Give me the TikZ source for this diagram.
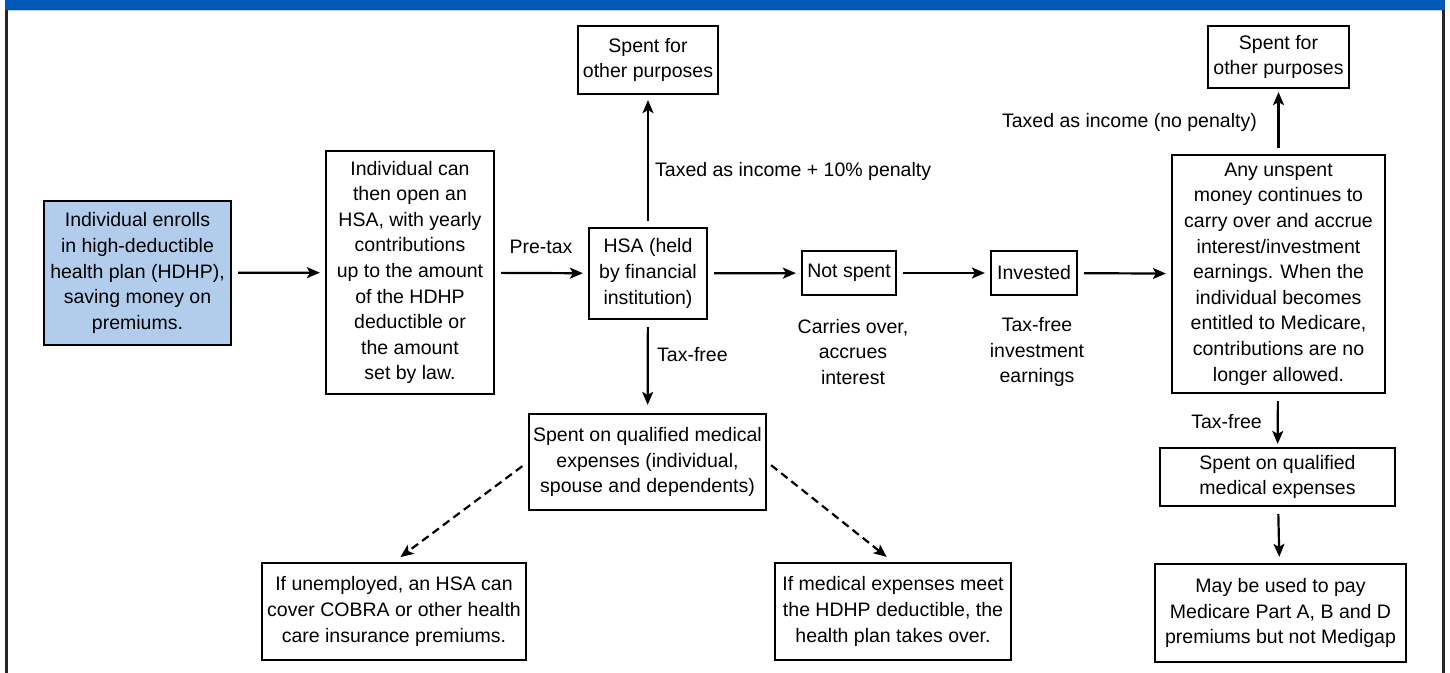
\documentclass[tikz,border=0pt]{standalone}
\usepackage{fontspec}
\setmainfont{Liberation Sans}
\usetikzlibrary{arrows.meta}
\definecolor{barblue}{RGB}{0,88,184}
\definecolor{boxblue}{RGB}{178,205,236}
\definecolor{lineblue}{RGB}{190,210,235}
\tikzset{
  every node/.style={font=\fontsize{19.5bp}{25.6bp}\selectfont, inner sep=0pt},
  box/.style={draw=black, line width=2.2bp, align=center, fill=white},
  lbl/.style={align=center},
  arr/.style={line width=2.2bp, -{Stealth[length=13bp,width=11bp,inset=3bp]}, shorten >=5bp, shorten <=6bp},
  darr/.style={arr, dash pattern=on 8bp off 5bp},
}
\begin{document}
\begin{tikzpicture}[x=1bp,y=-1bp]
\useasboundingbox (0,0) rectangle (1450,673);
% frame
\fill[barblue] (5,0) rectangle (1445,10);
\draw[lineblue, line width=1bp] (7.5,10.5) -- (1442,10.5);
\fill[black!85] (5,10) rectangle (7.5,673);
\fill[black!85] (1442,10) rectangle (1444.5,673);
% nodes
\node[box, fill=boxblue, minimum width=187bp, minimum height=144bp] (b1) at (137.5,273)
  {Individual enrolls\\in high-deductible\\health plan (HDHP),\\saving money on\\premiums.};
\node[box, minimum width=168bp, minimum height=243bp] (b2) at (410,272.5)
  {Individual can\\then open an\\HSA, with yearly\\contributions\\up to the amount\\of the HDHP\\deductible or\\the amount\\set by law.};
\node[box, minimum width=140bp, minimum height=68bp] (top1) at (648,60)
  {Spent for\\other purposes};
\node[box, minimum width=118bp, minimum height=91bp] (hsa) at (648,273.5)
  {HSA (held\\by financial\\institution)};
\node[box, minimum width=94bp, minimum height=44bp] (ns) at (849,273)
  {Not spent};
\node[box, minimum width=86bp, minimum height=44bp] (inv) at (1034,273)
  {Invested};
\node[box, minimum width=213bp, minimum height=238bp] (big) at (1278.5,274)
  {Any unspent\\money continues to\\carry over and accrue\\interest/investment\\earnings. When the\\individual becomes\\entitled to Medicare,\\contributions are no\\longer allowed.};
\node[box, minimum width=141bp, minimum height=62bp] (top2) at (1278.5,57)
  {Spent for\\other purposes};
\node[box, minimum width=237bp, minimum height=96bp] (med) at (647.5,462)
  {Spent on qualified medical\\expenses (individual,\\spouse and dependents)};
\node[box, minimum width=264bp, minimum height=97bp] (cobra) at (394,611.5)
  {If unemployed, an HSA can\\cover COBRA or other health\\care insurance premiums.};
\node[box, minimum width=236bp, minimum height=97bp] (hdhp) at (893,611.5)
  {If medical expenses meet\\the HDHP deductible, the\\health plan takes over.};
\node[box, minimum width=235bp, minimum height=58bp] (med2) at (1277.5,477)
  {Spent on qualified\\medical expenses};
\node[box, minimum width=251bp, minimum height=98bp] (mcare) at (1280.5,613)
  {May be used to pay\\Medicare Part A, B and D\\premiums but not Medigap};
% labels
\node[lbl] (lpre) at (541,247) {Pre-tax};
\node[lbl, anchor=west] (ltax) at (655,171) {Taxed as income + 10\% penalty};
\node[lbl, anchor=west] (lfree) at (657,355) {Tax-free};
\node[lbl] (lcarry) at (853,352) {Carries over,\\accrues\\interest};
\node[lbl] (linv) at (1037,352) {Tax-free\\investment\\earnings};
\node[lbl, anchor=east] (lnop) at (1257,122) {Taxed as income (no penalty)};
\node[lbl, anchor=east] (lfree2) at (1262,422) {Tax-free};
% connectors
\draw[arr] (b1) -- (b2);
\draw[arr] (b2) -- (hsa);
\draw[arr] (hsa) -- (top1);
\draw[arr] (hsa) -- (ns);
\draw[arr] (ns) -- (inv);
\draw[arr] (inv) -- (big);
\draw[arr, shorten <=7bp, shorten >=8bp] (hsa) -- (med);
\draw[arr, shorten <=6bp, shorten >=3bp] (big) -- (top2);
\draw[arr, shorten <=7bp, shorten >=3bp] (big) -- (med2);
\draw[arr, shorten <=7bp, shorten >=6bp] (med2) -- (mcare);
\draw[darr, shorten <=7bp, shorten >=8bp] (med.west) -- (cobra.north);
\draw[darr, shorten <=5bp, shorten >=8bp] (med.east) -- (hdhp.north);
\end{tikzpicture}
\end{document}
